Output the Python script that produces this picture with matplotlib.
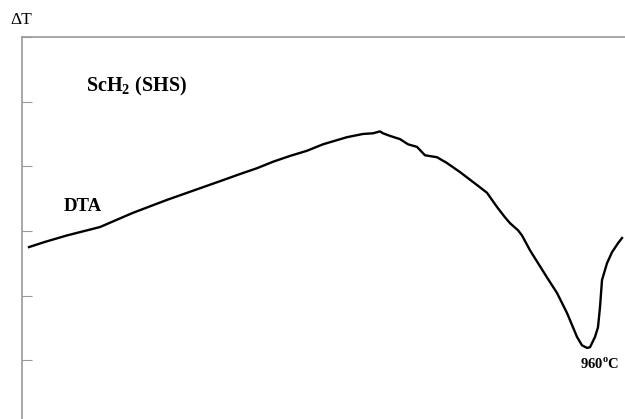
import matplotlib.pyplot as plt

plt.rcParams['font.family'] = ['Liberation Serif', 'DejaVu Serif']
plt.rcParams['mathtext.fontset'] = 'custom'
plt.rcParams['mathtext.rm'] = 'Liberation Serif:bold'

# DTA trace, arbitrary units (heating axis -> x, delta T -> y)
x = [7, 23, 45, 78, 111, 145, 178, 200, 218, 235, 251, 268, 285, 301,
     325, 341, 351, 358, 361, 368, 378, 386, 395, 403, 415, 425, 438, 455,
     465, 475, 483, 488, 496, 500, 508, 525, 535, 545, 555, 560, 565, 568,
     573, 576, 578, 580, 585, 590, 596, 600]
dta = [1.75, 1.83, 1.93, 2.06, 2.28, 2.48, 2.66, 2.78, 2.88, 2.97, 3.07,
       3.16, 3.24, 3.34, 3.45, 3.50, 3.51, 3.54, 3.51, 3.47, 3.42, 3.34,
       3.30, 3.17, 3.14, 3.05, 2.91, 2.71, 2.59, 2.37, 2.21, 2.12, 2.01,
       1.93, 1.70, 1.28, 1.04, 0.73, 0.36, 0.23, 0.19, 0.20, 0.36, 0.51,
       0.82, 1.24, 1.50, 1.67, 1.81, 1.89]

fig = plt.figure(figsize=(6.25, 4.19), dpi=100)
ax = fig.add_axes([22/625, 0, 1 - 22/625, 1 - 37/419])
ax.plot(x, dta, color='black', lw=1.7)

ax.set_xlim(0, 603)
ax.set_ylim(-0.91, 5)
ax.set_xticks([])
ax.set_yticks([0, 1, 2, 3, 4, 5])
ax.tick_params(axis='y', direction='in', length=7, color='#999999',
               labelleft=False)
for side in ['right', 'bottom']:
    ax.spines[side].set_visible(False)
for side in ['left', 'top']:
    ax.spines[side].set_color('#999999')
    ax.spines[side].set_linewidth(1.2)

ax.text(64, 4.24, 'ScH$_2$ (SHS)', fontsize=14.5, fontweight='bold',
        va='center')
ax.text(42, 2.37, 'DTA', fontsize=13.5, fontweight='bold', va='center')
ax.text(558, -0.06, '960$^\\mathrm{o}$C', fontsize=10.5, fontweight='bold',
        va='center')
fig.text(0.016, 0.952, '\u0394T', fontsize=12.5, va='center')

fig.savefig('out.png', dpi=100)
